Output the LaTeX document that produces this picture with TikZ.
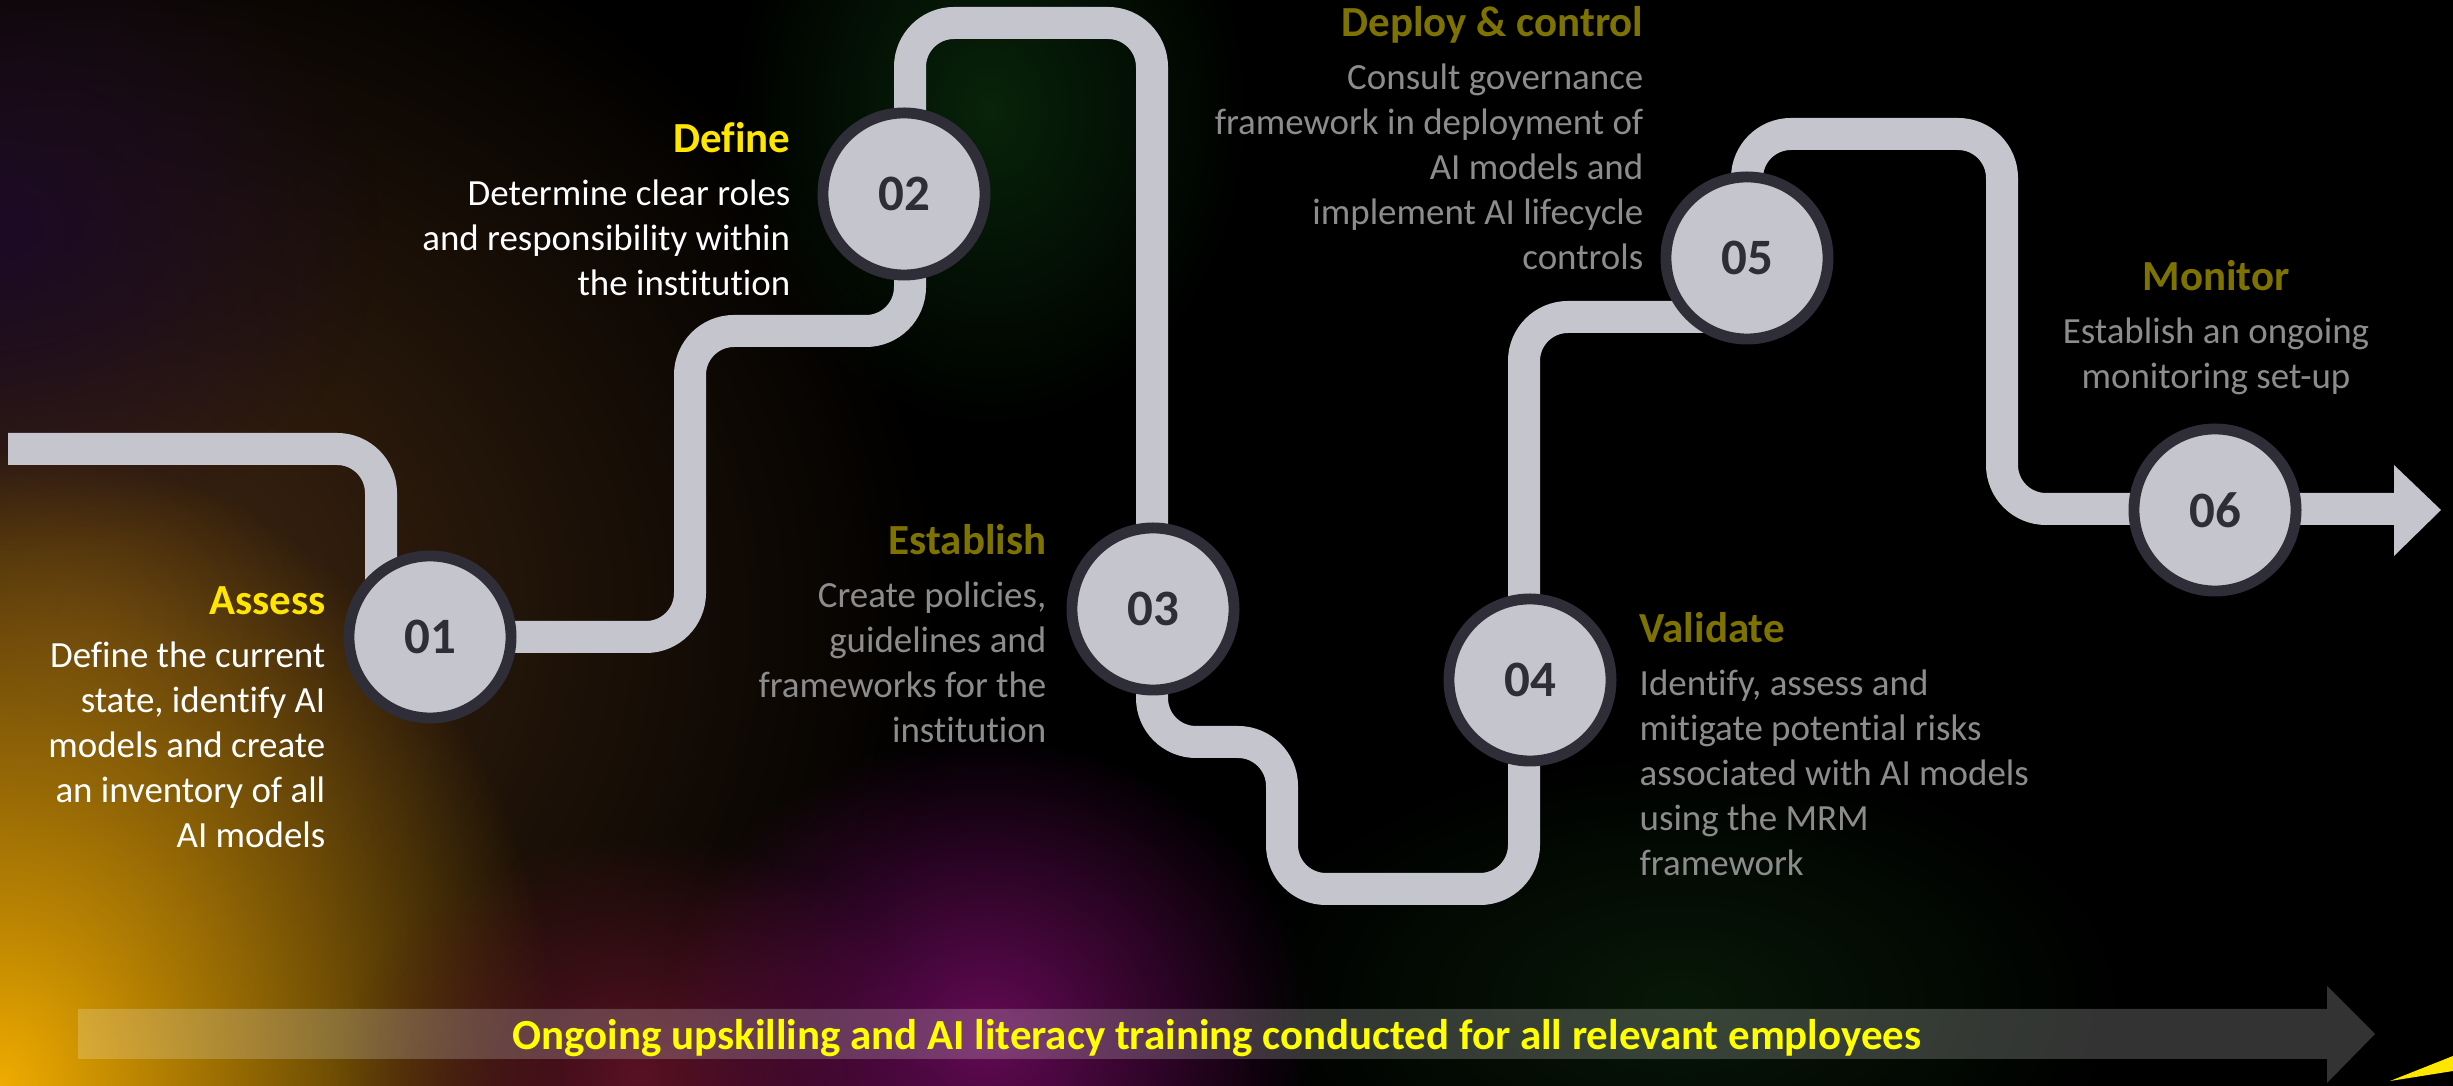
\documentclass[tikz,border=0pt]{standalone}
\usepackage{fontspec}
\setmainfont{Carlito}[Ligatures=NoCommon]
\usetikzlibrary{positioning,fadings}
\definecolor{roadgray}{HTML}{C5C5CD}
\definecolor{ringdark}{HTML}{2E2D38}
\definecolor{eyyellow}{HTML}{FFE600}
\definecolor{dimyellow}{HTML}{7F7300}
\definecolor{dimgray}{HTML}{8C8C8C}
\tikzfading[name=glow, inner color=transparent!0, outer color=transparent!100]
\tikzset{
    road/.style={
        draw=roadgray,
        line width=9.1pt,
        rounded corners=12.5pt,
    },
    stepdot/.style={
        circle,
        draw=ringdark,
        fill=roadgray,
        line width=3.1pt,
        minimum size=1.62cm,
        inner sep=0pt,
        text=ringdark,
        font=\fontsize{14.5}{17}\selectfont\bfseries,
    },
    ttl/.style={
        inner sep=0pt,
        font=\fontsize{12.2}{14}\selectfont\bfseries,
    },
    txt/.style={
        inner sep=0pt,
        font=\fontsize{10.5}{12.8}\selectfont,
    },
    haze/.style={
        path fading=glow,
    },
}

\begin{document}
\begin{tikzpicture}[x=0.01cm, y=-0.01cm]
    \useasboundingbox (0,0) rectangle (2453,1086);
    % background
    \begin{scope}
        \clip (0,0) rectangle (2453,1086);
        \fill[black] (0,0) rectangle (2453,1086);
        \fill[haze, color={rgb,255:red,66;green,40;blue,18}] (100,620) ellipse (850 and 760);
        \fill[haze, color={rgb,255:red,28;green,10;blue,38}] (0,230) ellipse (380 and 320);
        \fill[haze, color={rgb,255:red,240;green,172;blue,0}] (0,1086) ellipse (560 and 640);
        \fill[haze, color={rgb,255:red,90;green,18;blue,35}] (640,1075) ellipse (300 and 240);
        \fill[haze, color={rgb,255:red,100;green,10;blue,85}] (985,1035) ellipse (330 and 300);
        \fill[haze, color={rgb,255:red,8;green,36;blue,10}] (990,110) ellipse (260 and 320);
        \fill[haze, color={rgb,255:red,8;green,24;blue,8}] (1680,1000) ellipse (450 and 250);
    \end{scope}

    % the road
    \draw[road] (8,449) -- (381,449) -- (381,637) -- (690,637) -- (690,331)
        -- (910,331) -- (910,23) -- (1152,23) -- (1152,742) -- (1282,742)
        -- (1282,889) -- (1524,889) -- (1524,317) -- (1747,317) -- (1747,134)
        -- (2002,134) -- (2002,509) -- (2394,509);
    \coordinate (tip) at (2441,510);
    \fill[roadgray] (2394,465) -- (tip) -- (2394,556) -- cycle;

    % steps
    \node [stepdot] (s1) at (430,637) {01};
    \node [stepdot] (s2) at (904,194) {02};
    \node [stepdot] (s3) at (1153,609) {03};
    \node [stepdot] (s4) at (1530,680) {04};
    \node [stepdot] (s5) at (1747,258) {05};
    \node [stepdot] (s6) at (2215,510) {06};

    % labels
    \node [ttl, text=eyyellow, anchor=base east] (t1) at (326,615) {Assess};
    \node [txt, text=white, align=right, below left=0.2cm and 0cm of t1.base east] (b1)
        {\strut Define the current\\state, identify AI\\models and create\\an inventory of all\\AI models};
    \node [ttl, text=eyyellow, anchor=base east] (t2) at (791,153) {Define};
    \node [txt, text=white, align=right, below left=0.2cm and 0cm of t2.base east] (b2)
        {\strut Determine clear roles\\and responsibility within\\the institution};
    \node [ttl, text=dimyellow, anchor=base east] (t3) at (1047,555) {Establish};
    \node [txt, text=dimgray, align=right, below left=0.2cm and 0cm of t3.base east] (b3)
        {\strut Create policies,\\guidelines and\\frameworks for the\\institution};
    \node [ttl, text=dimyellow, anchor=base west] (t4) at (1639,643) {Validate};
    \node [txt, text=dimgray, align=left, below right=0.2cm and 0cm of t4.base west] (b4)
        {\strut Identify, assess and\\mitigate potential risks\\associated with AI models\\using the MRM\\framework};
    \node [ttl, text=dimyellow, anchor=base east] (t5) at (1644,37) {Deploy \& control};
    \node [txt, text=dimgray, align=right, below left=0.2cm and 0cm of t5.base east] (b5)
        {\strut Consult governance\\framework in deployment of\\AI models and\\implement AI lifecycle\\controls};
    \node [ttl, text=dimyellow, anchor=base] (t6) at (2216,291) {Monitor};
    \node [txt, text=dimgray, align=center, below=0.2cm of t6.base] (b6)
        {\strut Establish an ongoing\\monitoring set-up};

    % training banner
    \fill[white, fill opacity=0.2] (78,1009) -- (2327,1009) -- (2327,986) -- (2375,1034)
        -- (2327,1083) -- (2327,1059) -- (78,1059) -- cycle;
    \node [ttl, text={rgb,255:red,255;green,255;blue,0}, anchor=base] (band) at (1217,1050)
        {Ongoing upskilling and AI literacy training conducted for all relevant employees};
    \fill[eyyellow] (2390,1081) -- (2453,1056) -- (2453,1071) -- cycle;
\end{tikzpicture}
\end{document}
